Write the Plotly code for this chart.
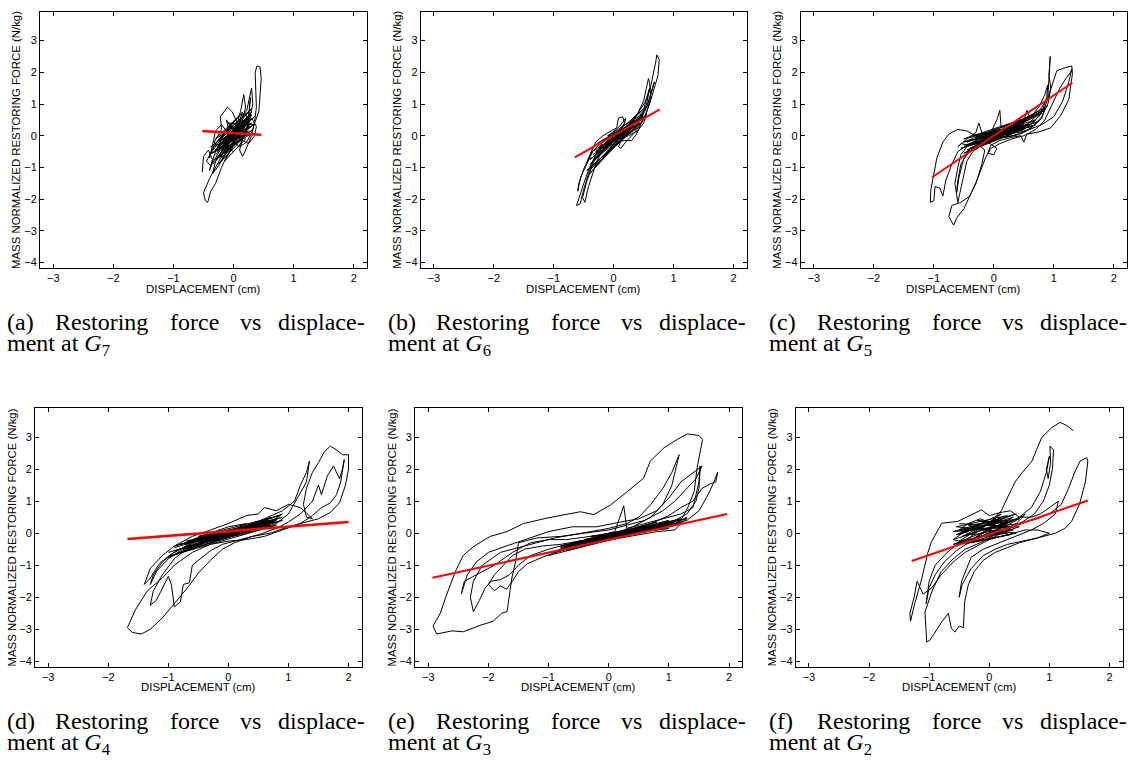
import plotly.graph_objects as go

W, H = 1135, 769

# ---------------- data ----------------
g7_points = [(-0.52,-1.15),(-0.5,-0.65),(-0.42,-0.45),(-0.35,-0.75),(-0.4,-1.1),(-0.3,-0.5),(-0.2,-0.1),(-0.25,-0.55),
 (-0.38,-0.95),(-0.45,-0.8),(-0.3,-0.25),(-0.15,0.1),(-0.05,0.3),(-0.12,-0.1),(-0.25,-0.4),(-0.32,-0.2),(-0.2,0.2),
 (-0.22,0.6),(-0.1,0.9),(-0.02,0.75),(0.05,0.45),(0.0,0.05),(-0.1,-0.3),(-0.2,-0.65),(-0.3,-1.0),(-0.4,-1.35),
 (-0.5,-1.8),(-0.47,-2.05),(-0.43,-2.1),(-0.38,-1.75),(-0.3,-1.5),(-0.25,-1.25),(-0.2,-1.0),(-0.1,-0.6),(0.0,-0.25),
 (0.1,0.1),(0.15,0.5),(0.2,0.9),(0.17,1.3),(0.12,0.8),(0.05,0.3),(-0.05,-0.05),(-0.15,-0.35),(0.0,-0.5),(0.1,-0.3),
 (0.2,0.05),(0.25,0.5),(0.28,1.2),(0.25,0.6),(0.15,0.2),(0.05,-0.1),(-0.1,-0.45),(-0.25,-0.7),(-0.15,-0.3),(0.0,0.15),
 (0.1,0.5),(0.22,0.8),(0.3,1.5),(0.32,1.0),(0.25,0.3),(0.15,-0.1),(0.1,-0.45),(0.15,-0.65),(0.2,-0.45),(0.3,0.0),
 (0.35,0.45),(0.38,0.9),(0.37,1.4),(0.36,2.0),(0.39,2.2),(0.44,2.17),(0.46,1.8),(0.44,1.2),(0.42,0.75),(0.36,0.45),
 (0.3,0.1),(0.22,-0.2),(0.1,-0.35),(0.0,-0.2),(-0.1,0.1),(-0.2,0.35),(-0.3,0.15),(-0.35,-0.3),(-0.4,-0.7),(-0.35,-0.4),
 (-0.2,0.0),(-0.05,0.35),(0.1,0.65),(0.2,0.7),(0.25,0.4),(0.2,0.1),(0.05,-0.2),(-0.1,-0.5),(-0.25,-0.95),(-0.35,-1.2),
 (-0.3,-0.8),(-0.15,-0.35),(0.0,0.0),(0.15,0.3),(0.3,0.55),(0.38,0.3),(0.35,0.0),(0.25,-0.25),(0.1,-0.1),(0.0,0.2),
 (-0.12,0.5),(-0.08,0.2),(0.05,0.0)]
g7_core = [(-0.3,-0.6),(0.2,0.3),(-0.25,-0.3),(0.25,0.55),(-0.2,-0.45),(0.3,0.4),(-0.28,-0.2),(0.15,0.6),(-0.15,-0.55),
 (0.32,0.2),(-0.3,-0.75),(0.2,0.45),(-0.1,-0.2),(0.28,0.7),(-0.22,-0.65),(0.1,0.35),(-0.3,-0.45),(0.35,0.6),(-0.18,-0.3),
 (0.22,0.05),(-0.25,-0.9),(0.12,0.1),(-0.05,0.25),(0.3,0.85),(-0.35,-0.55),(0.05,-0.05),(0.25,0.25),(-0.2,-0.15),
 (0.18,0.5),(-0.12,-0.4),(0.3,0.3),(-0.28,-0.5),(0.1,0.2)]
g7_core2 = [(-0.35,-0.9),(0.1,0.0),(-0.2,-0.7),(0.25,0.15),(-0.4,-0.6),(0.05,0.55),(-0.3,-0.1),(0.3,0.65),(-0.15,-0.8),
 (0.2,-0.1),(-0.1,0.4),(0.35,0.35),(-0.25,-0.15),(0.15,0.75),(-0.05,-0.35),(0.28,0.05),(-0.38,-0.35),(0.1,0.4),
 (-0.2,-0.35),(0.3,0.75),(0.0,-0.1)]

g6_points = [(-0.05,0.0),(0.1,0.15),(0.25,0.3),(0.4,0.55),(0.5,0.8),(0.55,1.2),(0.6,1.5),(0.55,1.0),(0.45,0.5),(0.35,0.2),
 (0.2,0.05),(0.0,-0.15),(-0.15,-0.3),(-0.3,-0.6),(-0.4,-1.0),(-0.48,-1.4),(-0.55,-1.8),(-0.62,-2.2),(-0.56,-2.15),
 (-0.5,-1.7),(-0.42,-1.2),(-0.32,-0.7),(-0.2,-0.25),(-0.05,0.05),(0.1,0.3),(0.2,0.55),(0.18,0.35),(0.1,0.15),(0.25,0.35),
 (0.4,0.7),(0.5,1.1),(0.58,1.8),(0.6,1.65),(0.62,1.2),(0.55,0.75),(0.45,0.35),(0.38,0.05),(0.3,-0.15),(0.18,-0.15),
 (0.05,-0.2),(-0.1,-0.35),(-0.25,-0.55),(-0.35,-0.9),(-0.45,-1.45),(-0.52,-1.95),(-0.48,-2.1),(-0.42,-1.6),(-0.35,-1.2),
 (-0.28,-0.8),(-0.2,-0.5),(-0.08,-0.2),(0.05,0.0),(0.15,0.2),(0.3,0.4),(0.42,0.75),(0.52,1.05),(0.6,1.4),(0.65,1.8),
 (0.7,2.3),(0.72,2.55),(0.76,2.4),(0.74,1.9),(0.68,1.5),(0.6,1.0),(0.52,0.6),(0.42,0.3),(0.3,0.1),(0.15,-0.05),
 (0.08,-0.35),(0.12,-0.4),(0.2,-0.2),(0.35,0.1),(0.48,0.45),(0.55,0.7),(0.5,0.4),(0.4,0.15),(0.25,0.0),(0.1,-0.1),
 (-0.05,-0.2),(-0.2,-0.3),(-0.35,-0.5),(-0.45,-0.9),(-0.55,-1.3),(-0.6,-1.75),(-0.58,-1.5),(-0.5,-1.05),(-0.4,-0.6),
 (-0.3,-0.2),(-0.18,0.0),(-0.05,0.15),(0.05,0.25),(0.08,0.55),(0.15,0.6),(0.18,0.4),(0.12,0.2),(0.0,0.05),(-0.12,-0.1),
 (-0.25,-0.2),(-0.35,-0.4),(-0.42,-0.75),(-0.38,-0.55),(-0.25,-0.3),(-0.1,-0.1),(0.05,0.1),(0.2,0.2),(0.35,0.3),
 (0.45,0.5),(0.55,0.9),(0.62,1.3),(0.68,1.7),(0.64,1.4),(0.56,0.95),(0.45,0.6),(0.3,0.25),(0.15,0.1),(0.0,0.0)]
g6_core = [(-0.4,-0.9),(0.3,0.25),(-0.3,-0.5),(0.45,0.6),(-0.35,-0.8),(0.2,0.2),(-0.2,-0.15),(0.4,0.45),(-0.4,-1.2),
 (0.35,0.5),(-0.25,-0.4),(0.5,0.85),(-0.3,-0.7),(0.1,0.05),(-0.15,-0.25),(0.45,0.4),(-0.38,-1.05),(0.3,0.35),(-0.1,0.0),
 (0.5,0.7),(-0.3,-0.95),(0.25,0.1)]
g6_core2 = [(-0.35,-0.6),(0.4,0.35),(-0.45,-1.1),(0.3,0.15),(-0.2,-0.35),(0.5,0.6),(-0.4,-0.75),(0.2,0.1),(0.0,0.0)]

g5_points = [(0.0,0.0),(0.2,0.15),(0.4,0.3),(0.6,0.55),(0.75,0.9),(0.85,1.3),(0.9,1.6),(0.88,1.2),(0.8,0.75),(0.65,0.4),
 (0.5,0.2),(0.3,0.1),(0.1,0.0),(-0.1,-0.1),(-0.3,-0.2),(-0.45,-0.35),(-0.55,-0.6),(-0.6,-1.0),(-0.65,-1.5),(-0.6,-2.1),
 (-0.55,-1.7),(-0.5,-1.2),(-0.45,-0.8),(-0.35,-0.5),(-0.2,-0.3),(0.0,-0.15),(0.2,0.0),(0.4,0.15),(0.55,0.35),(0.7,0.6),
 (0.8,0.9),(0.9,1.2),(0.94,2.5),(0.92,1.9),(0.95,1.5),(0.9,1.0),(0.8,0.6),(0.65,0.3),(0.5,0.1),(0.35,0.0),(0.15,-0.05),
 (-0.05,-0.1),(-0.25,-0.25),(-0.4,-0.3),(-0.55,-0.25),(-0.6,-0.35),(-0.45,-0.1),(-0.3,0.1),(-0.25,0.4),(-0.2,0.1),
 (-0.05,0.1),(0.05,0.5),(0.1,0.8),(0.12,0.3),(0.2,0.25),(0.35,0.35),(0.5,0.45),(0.55,0.8),(0.6,0.55),(0.75,0.7),
 (0.85,0.9),(0.92,1.3),(1.0,1.8),(1.05,2.05),(1.2,2.15),(1.3,2.2),(1.31,1.95),(1.28,1.5),(1.25,1.15),(1.12,0.65),
 (0.95,0.25),(0.75,0.12),(0.55,0.05),(0.5,-0.2),(0.45,0.0),(0.3,-0.05),(0.1,-0.15),(-0.05,-0.3),(-0.1,-0.55),(0.0,-0.6),
 (0.05,-0.4),(-0.1,-0.2),(-0.3,-0.35),(-0.45,-0.6),(-0.55,-0.9),(-0.6,-1.4),(-0.62,-1.8),(-0.58,-1.3),(-0.5,-0.7),
 (-0.4,-0.4),(-0.25,-0.3),(-0.15,-0.45),(-0.2,-0.9),(-0.3,-1.5),(-0.4,-1.9),(-0.5,-2.3),(-0.62,-2.6),(-0.67,-2.82),
 (-0.75,-2.55),(-0.7,-2.2),(-0.55,-2.1),(-0.4,-1.9),(-0.3,-1.5),(-0.2,-1.0),(-0.14,-0.7),(-0.05,-0.4),(0.1,-0.25),
 (0.3,-0.1),(0.5,0.0),(0.7,0.2),(0.85,0.5),(0.95,0.9),(1.1,1.5),(1.2,1.8),(1.28,2.0),(1.3,2.1),(1.25,1.7),(1.15,1.1),
 (1.0,0.6),(0.8,0.35),(0.6,0.2),(0.4,0.1),(0.2,0.05),(0.0,-0.05),(-0.2,-0.1),(-0.35,0.05),(-0.45,0.15),(-0.6,0.2),
 (-0.75,0.05),(-0.85,-0.2),(-0.95,-0.7),(-1.0,-1.2),(-1.05,-1.7),(-1.06,-2.1),(-1.0,-2.05),(-0.98,-1.6),(-0.9,-1.65),
 (-0.85,-1.9),(-0.8,-1.4),(-0.7,-0.9),(-0.6,-0.5),(-0.45,-0.3),(-0.3,-0.15),(-0.15,0.0),(0.0,0.1),(0.2,0.2),(0.4,0.25),
 (0.6,0.35),(0.75,0.6),(0.85,0.9),(0.8,0.55),(0.6,0.2),(0.4,0.05),(0.2,-0.05),(0.0,0.0)]
g5_core = [(-0.5,-0.3),(0.4,0.15),(-0.4,-0.15),(0.6,0.35),(-0.45,-0.45),(0.5,0.2),(-0.3,-0.05),(0.7,0.5),(-0.5,-0.55),
 (0.3,0.05),(-0.2,0.05),(0.8,0.7),(-0.4,-0.4),(0.45,0.35),(-0.35,0.0),(0.65,0.3),(-0.5,-0.2),(0.85,0.8),(-0.25,-0.2),
 (0.55,0.5),(-0.45,-0.3),(0.75,0.45),(0.0,0.0)]
g5_core2 = [(-0.45,-0.2),(0.5,0.35),(-0.55,-0.4),(0.7,0.35),(-0.3,-0.25),(0.6,0.6),(-0.5,-0.1),(0.4,0.3),(-0.4,-0.5),
 (0.9,0.95),(0.0,0.0)]

g4_points = [(0.0,0.0),(0.3,0.1),(0.6,0.25),(0.8,0.4),(0.6,0.3),(0.3,0.15),(0.0,0.05),(-0.3,-0.1),(-0.5,-0.2),(-0.7,-0.35),
 (-0.5,-0.15),(-0.2,0.0),(0.1,0.1),(0.4,0.25),(0.7,0.45),(0.9,0.6),(0.7,0.35),(0.4,0.15),(0.1,0.0),(-0.2,-0.1),(-0.5,-0.3),
 (-0.8,-0.55),(-1.0,-0.8),(-1.2,-1.2),(-1.3,-1.6),(-1.25,-1.3),(-1.1,-0.9),(-0.9,-0.6),(-0.6,-0.3),(-0.3,-0.1),(0.0,0.1),
 (0.3,0.2),(0.6,0.45),(0.9,0.7),(1.1,1.0),(1.2,1.5),(1.3,1.9),(1.35,2.25),(1.3,1.6),(1.15,1.1),(1.0,0.6),(0.8,0.3),
 (0.5,0.1),(0.2,-0.05),(-0.1,-0.15),(-0.4,-0.3),(-0.7,-0.5),(-0.9,-0.8),(-1.1,-1.3),(-1.25,-1.8),(-1.3,-2.25),(-1.2,-2.1),
 (-1.1,-1.7),(-1.0,-1.35),(-0.95,-1.6),(-0.9,-2.3),(-0.8,-2.15),(-0.75,-1.6),(-0.65,-1.55),(-0.6,-1.0),(-0.5,-0.85),
 (-0.3,-0.55),(-0.1,-0.35),(0.2,-0.2),(0.5,-0.05),(0.8,0.15),(1.0,0.35),(1.2,0.6),(1.4,1.0),(1.5,1.5),(1.55,1.2),
 (1.65,1.8),(1.75,2.1),(1.85,1.7),(1.9,2.0),(1.93,2.3),(1.87,1.6),(1.8,1.2),(1.7,0.95),(1.55,0.8),(1.4,0.55),(1.2,0.3),
 (0.9,0.1),(0.6,-0.1),(0.3,-0.2),(0.0,-0.25),(-0.3,-0.35),(-0.6,-0.6),(-0.9,-1.0),(-1.1,-1.4),(-1.35,-1.8),(-1.55,-2.4),
 (-1.68,-2.95),(-1.6,-3.1),(-1.45,-3.15),(-1.3,-3.0),(-1.1,-2.65),(-0.9,-2.2),(-0.7,-1.75),(-0.5,-1.25),(-0.3,-0.85),
 (-0.1,-0.5),(0.1,-0.3),(0.4,-0.1),(0.7,0.0),(1.0,0.2),(1.3,0.35),(1.5,0.45),(1.7,0.65),(1.85,0.95),(1.95,1.5),(2.0,2.0),
 (2.0,2.45),(1.9,2.45),(1.8,2.6),(1.7,2.72),(1.6,2.55),(1.5,2.2),(1.4,1.9),(1.3,1.4),(1.25,0.9),(1.3,0.5),(1.4,0.45),
 (1.2,0.8),(1.0,0.9),(0.8,0.7),(0.6,0.8),(0.5,0.6),(0.3,0.55),(0.0,0.3),(-0.3,0.1),(-0.6,-0.1),(-0.9,-0.4),(-1.1,-0.7),
 (-1.3,-1.1),(-1.4,-1.6),(-1.3,-1.4),(-1.15,-0.95),(-0.95,-0.65),(-0.7,-0.4),(-0.4,-0.2),(-0.1,0.0),(0.2,0.15),(0.5,0.3),
 (0.7,0.5),(0.5,0.2),(0.2,0.05),(-0.1,-0.1),(-0.4,-0.25),(-0.6,-0.2),(-0.3,0.0),(0.0,0.2),(0.3,0.3),(0.0,0.0)]
g4_core = [(-1.0,-0.6),(0.6,0.3),(-0.8,-0.35),(0.8,0.45),(-0.9,-0.55),(0.4,0.15),(-0.6,-0.25),(0.9,0.5),(-1.0,-0.75),
 (0.5,0.35),(-0.7,-0.45),(0.7,0.25),(-0.5,-0.1),(0.85,0.55),(-0.9,-0.4),(0.3,0.2),(-0.6,-0.4),(0.75,0.35),(0.0,0.0)]
g4_core2 = [(-0.9,-0.45),(0.7,0.4),(-0.7,-0.25),(0.5,0.15),(-0.8,-0.6),(0.9,0.4),(-0.4,-0.2),(0.6,0.4),(-0.95,-0.7),
 (0.8,0.25),(-0.5,-0.3),(0.4,0.25),(-0.75,-0.5),(0.0,0.05)]

g3_points = [(0.0,-0.1),(0.3,0.0),(0.6,0.1),(0.9,0.2),(1.2,0.35),(1.0,0.25),(0.7,0.15),(0.4,0.05),(0.1,-0.05),(-0.2,-0.2),
 (-0.5,-0.3),(-0.8,-0.45),(-0.6,-0.35),(-0.3,-0.2),(0.0,-0.05),(0.3,0.1),(0.6,0.2),(0.9,0.25),(1.1,0.3),(1.3,0.5),
 (1.1,0.1),(0.8,0.05),(0.5,-0.05),(0.2,-0.15),(-0.1,-0.25),(-0.4,-0.4),(-0.7,-0.55),(-1.0,-0.7),(-0.8,-0.5),(-0.5,-0.3),
 (-0.2,-0.1),(0.1,0.05),(0.25,0.85),(0.3,0.15),(0.6,0.3),(0.9,0.45),(1.2,0.6),(1.4,0.8),(1.45,1.2),(1.5,1.6),(1.52,2.1),
 (1.5,1.4),(1.45,1.0),(1.3,0.6),(1.0,0.3),(0.7,0.15),(0.4,0.0),(0.1,-0.1),(-0.2,-0.2),(-0.5,-0.25),(-0.8,-0.35),
 (-1.1,-0.4),(-1.4,-0.5),(-1.6,-0.7),(-1.75,-1.0),(-1.9,-1.3),(-2.0,-1.6),(-1.9,-1.8),(-1.8,-1.65),(-1.7,-1.75),
 (-1.6,-1.5),(-1.5,-1.2),(-1.35,-0.95),(-1.1,-0.75),(-0.8,-0.55),(-0.5,-0.35),(-0.2,-0.2),(0.1,0.0),(0.4,0.2),(0.7,0.5),
 (0.9,0.9),(1.05,1.5),(1.17,2.45),(1.05,1.9),(0.9,1.4),(0.7,0.9),(0.5,0.5),(0.3,0.3),(0.0,0.15),(-0.3,0.05),(-0.6,-0.05),
 (-0.9,-0.15),(-1.2,-0.3),(-1.5,-0.45),(-1.8,-0.6),(-2.1,-1.0),(-2.25,-1.5),(-2.3,-2.0),(-2.25,-2.45),(-2.15,-2.1),
 (-2.05,-1.7),(-1.95,-1.5),(-1.8,-1.45),(-1.65,-1.3),(-1.5,-1.0),(-1.3,-0.7),(-1.0,-0.5),(-0.7,-0.35),(-0.4,-0.25),
 (-0.1,-0.15),(0.2,-0.05),(0.5,0.1),(0.8,0.2),(1.1,0.3),(1.3,0.4),(1.5,0.7),(1.65,1.2),(1.75,1.6),(1.81,1.9),(1.78,1.6),
 (1.7,1.55),(1.55,1.4),(1.4,1.0),(1.2,0.8),(1.0,0.55),(0.7,0.3),(0.4,0.15),(0.1,0.0),(-0.3,-0.1),(-0.7,-0.2),(-1.0,-0.2),
 (-1.3,-0.3),(-1.6,-0.6),(-1.9,-1.0),(-2.2,-1.3),(-2.4,-1.5),(-2.45,-1.9),(-2.42,-1.7),(-2.35,-1.3),(-2.2,-0.9),
 (-2.0,-0.6),(-1.7,-0.4),(-1.4,-0.2),(-1.0,0.05),(-0.6,0.2),(-0.2,0.2),(0.2,0.35),(0.5,0.45),(0.8,0.7),(1.0,1.1),
 (1.2,1.6),(1.4,1.9),(1.55,2.1),(1.45,1.7),(1.3,1.4),(1.1,1.0),(0.9,0.7),(0.6,0.4),(0.3,0.25),(0.0,0.1),(-0.4,0.0),
 (-0.8,-0.1),(-1.2,-0.15),(-1.5,-0.3),(-1.55,-0.9),(-1.61,-1.4),(-1.69,-2.45),(-1.78,-2.5),(-1.92,-2.75),(-2.14,-2.88),
 (-2.42,-3.08),(-2.6,-3.05),(-2.86,-3.15),(-2.92,-2.9),(-2.8,-2.5),(-2.7,-1.95),(-2.55,-1.2),(-2.42,-0.7),(-2.25,-0.42),
 (-1.97,-0.1),(-1.69,0.05),(-1.42,0.3),(-1.03,0.47),(-0.47,0.67),(-0.25,0.58),(0.03,0.88),(0.31,1.3),(0.58,1.72),
 (0.69,2.25),(0.92,2.67),(1.14,2.93),(1.31,3.1),(1.5,3.05),(1.56,2.93),(1.47,2.05),(1.42,1.3),(1.31,0.78),(1.19,0.37),
 (1.0,0.2),(0.7,0.1),(0.4,0.0),(0.1,-0.1),(-0.2,-0.2),(-0.5,-0.35),(-0.8,-0.5),(-0.5,-0.3),(-0.2,-0.15),(0.0,-0.1)]
g3_core = [(-0.8,-0.5),(1.0,0.25),(-0.6,-0.35),(1.2,0.45),(-0.7,-0.55),(0.8,0.15),(-0.5,-0.25),(1.1,0.35),(-0.8,-0.4),
 (0.6,0.2),(-0.4,-0.3),(1.2,0.3),(-0.6,-0.45),(0.9,0.3),(-0.3,-0.1),(1.0,0.15),(0.0,-0.1)]
g3_core2 = [(-0.7,-0.45),(1.1,0.4),(-0.9,-0.6),(0.7,0.25),(-0.4,-0.2),(1.3,0.45),(-0.6,-0.3),(0.5,0.05),(-0.8,-0.55),
 (1.0,0.4),(-0.2,-0.2),(0.8,0.35),(0.0,-0.05)]

g2_points = [(1.4,3.2),(1.3,3.35),(1.18,3.46),(1.04,3.3),(0.87,2.98),(0.71,2.25),(0.55,1.9),(0.43,1.6),(0.3,1.1),(0.2,0.7),
 (0.05,0.4),(-0.1,0.2),(-0.3,0.1),(-0.5,-0.05),(-0.3,0.15),(-0.1,0.3),(0.1,0.2),(0.3,0.3),(0.5,0.5),(0.7,0.8),(0.85,1.3),
 (0.95,1.9),(1.0,2.4),(0.95,2.0),(0.98,1.7),(1.02,2.2),(1.01,2.72),(1.07,2.6),(1.05,2.0),(1.0,1.5),(0.9,1.0),(0.75,0.6),
 (0.55,0.35),(0.35,0.2),(0.15,0.05),(-0.1,-0.1),(-0.3,-0.2),(-0.5,-0.3),(-0.7,-0.6),(-0.9,-1.0),(-1.0,-1.5),(-1.05,-2.2),
 (-1.0,-1.7),(-0.9,-1.3),(-0.75,-0.9),(-0.55,-0.55),(-0.35,-0.3),(-0.15,-0.1),(0.05,0.05),(0.25,0.2),(0.45,0.4),(0.6,0.6),
 (0.45,0.3),(0.25,0.1),(0.05,-0.1),(-0.15,-0.3),(-0.4,-0.5),(-0.6,-0.8),(-0.8,-1.2),(-0.95,-1.8),(-1.07,-2.46),
 (-1.04,-3.4),(-0.99,-3.35),(-0.79,-2.77),(-0.68,-2.51),(-0.63,-2.98),(-0.57,-3.09),(-0.5,-2.9),(-0.43,-2.95),
 (-0.41,-2.15),(-0.35,-1.62),(-0.25,-1.2),(-0.1,-0.85),(0.1,-0.6),(0.3,-0.45),(0.5,-0.3),(0.7,-0.2),(0.9,-0.1),(1.1,0.0),
 (1.26,0.15),(1.37,0.37),(1.5,0.9),(1.6,1.6),(1.64,2.25),(1.62,2.36),(1.51,2.25),(1.43,1.94),(1.32,1.4),(1.2,0.9),
 (1.0,0.6),(0.8,0.45),(0.6,0.35),(0.4,0.2),(0.2,0.0),(0.0,-0.2),(-0.2,-0.4),(-0.4,-0.6),(-0.6,-0.9),(-0.8,-1.3),
 (-0.95,-1.7),(-1.1,-1.9),(-1.2,-1.5),(-1.25,-2.0),(-1.32,-2.5),(-1.31,-2.75),(-1.24,-2.2),(-1.13,-1.47),(-1.02,-0.6),
 (-0.96,-0.26),(-0.79,0.31),(-0.52,0.37),(-0.29,0.58),(-0.13,0.73),(0.0,0.55),(0.2,0.65),(0.35,0.7),(0.5,0.5),(0.7,0.5),
 (0.85,0.6),(1.0,0.8),(1.15,1.0),(1.1,0.6),(0.9,0.3),(0.7,0.1),(0.5,-0.05),(0.3,-0.2),(0.1,-0.35),(-0.1,-0.5),
 (-0.3,-0.75),(-0.46,-1.5),(-0.5,-2.0),(-0.45,-1.6),(-0.3,-1.1),(-0.1,-0.7),(0.1,-0.5),(0.3,-0.35),(0.55,-0.25),
 (0.8,-0.15),(1.0,0.0),(0.8,0.1),(0.6,0.1),(0.4,0.0),(0.2,-0.1),(0.0,-0.2),(-0.2,-0.25),(-0.4,-0.3),(-0.6,-0.2),
 (-0.45,0.0),(-0.25,0.2),(-0.05,0.35),(0.15,0.4),(0.3,0.3),(0.1,0.1),(-0.1,0.0),(-0.3,-0.05),(-0.5,0.1),(-0.35,0.3),
 (-0.15,0.45),(0.05,0.3),(0.2,0.15),(0.0,0.0)]
g2_core = [(-0.6,-0.2),(0.4,0.4),(-0.5,0.1),(0.5,0.2),(-0.4,-0.35),(0.3,0.55),(-0.55,0.2),(0.45,0.0),(-0.3,-0.3),(0.2,0.5),
 (-0.45,-0.1),(0.5,0.45),(-0.35,0.25),(0.35,-0.05),(-0.6,-0.35),(0.25,0.3),(-0.2,0.4),(0.4,0.1),(-0.5,-0.25),(0.1,0.45),
 (0.0,0.0)]
g2_core2 = [(-0.5,0.3),(0.35,0.2),(-0.6,0.05),(0.45,0.6),(-0.3,0.1),(0.5,0.3),(-0.45,-0.3),(0.2,0.6),(-0.55,-0.05),
 (0.4,0.5),(-0.25,-0.15),(0.3,0.0),(0.0,0.0)]

# fitted (red) lines: end points
g7_fit_x, g7_fit_y = [-0.52, 0.46], [0.15, 0.03]
g6_fit_x, g6_fit_y = [-0.65, 0.77], [-0.68, 0.83]
g5_fit_x, g5_fit_y = [-1.03, 1.31], [-1.31, 1.67]
g4_fit_x, g4_fit_y = [-1.68, 2.0], [-0.18, 0.35]
g3_fit_x, g3_fit_y = [-2.93, 1.97], [-1.39, 0.60]
g2_fit_x, g2_fit_y = [-1.29, 1.64], [-0.87, 1.02]

x_ticks = [-3, -2, -1, 0, 1, 2]
y_ticks = [-4, -3, -2, -1, 0, 1, 2, 3]
caption_letters = ["(a)", "(b)", "(c)", "(d)", "(e)", "(f)"]
caption_nodes = ["7", "6", "5", "4", "3", "2"]
x_title = "DISPLACEMENT (cm)"
y_title = "MASS NORMALIZED RESTORING FORCE (N/kg)"

panels_data = [
    ([g7_points, g7_core, g7_core2], g7_fit_x, g7_fit_y),
    ([g6_points, g6_core, g6_core2], g6_fit_x, g6_fit_y),
    ([g5_points, g5_core, g5_core2], g5_fit_x, g5_fit_y),
    ([g4_points, g4_core, g4_core2], g4_fit_x, g4_fit_y),
    ([g3_points, g3_core, g3_core2], g3_fit_x, g3_fit_y),
    ([g2_points, g2_core, g2_core2], g2_fit_x, g2_fit_y),
]

# ---------------- layout (pixel boxes) ----------------
boxes = [
    (40, 367, 12, 268),
    (420.7, 746.7, 12, 268),
    (800.7, 1127, 12, 268),
    (35, 361.7, 408.3, 666.7),
    (415, 742.3, 408.3, 666.7),
    (795.7, 1122.7, 408.3, 666.7),
]
caption_cols = [5, 386, 767, 5, 386, 767]
caption_line1 = [322, 322, 322, 720.5, 720.5, 720.5]
red_widths = [2.6, 2, 2, 2.6, 2, 2]

X_RANGE = [-3.22, 2.22]
Y_RANGE = [-4.17, 3.9]

fig = go.Figure()
layout = dict(
    width=W, height=H, margin=dict(l=0, r=0, t=0, b=0),
    paper_bgcolor="white", plot_bgcolor="white", showlegend=False,
)
annotations = []
tick_font = dict(family="Liberation Sans", size=11, color="black")
title_font = dict(family="Liberation Sans", size=11.4, color="black")
cap_font = dict(family="Liberation Serif", size=24, color="black")

for i, ((segs, fx, fy), (x0, x1, y0, y1)) in enumerate(zip(panels_data, boxes)):
    k = "" if i == 0 else str(i + 1)
    for seg in segs:
        fig.add_trace(go.Scatter(x=[p[0] for p in seg], y=[p[1] for p in seg], mode="lines",
                                 line=dict(color="black", width=1),
                                 xaxis="x" + k, yaxis="y" + k, hoverinfo="skip"))
    fig.add_trace(go.Scatter(x=fx, y=fy, mode="lines", line=dict(color="#ff0000", width=red_widths[i]),
                             xaxis="x" + k, yaxis="y" + k, hoverinfo="skip"))
    common = dict(showline=True, linecolor="black", linewidth=1, mirror="ticks",
                  ticks="inside", ticklen=4, tickcolor="black", tickwidth=1,
                  showgrid=False, zeroline=False, tickfont=tick_font, fixedrange=True)
    layout["xaxis" + k] = dict(domain=[x0 / W, x1 / W], anchor="y" + k, range=X_RANGE,
                               tickmode="array", tickvals=x_ticks, **common)
    layout["yaxis" + k] = dict(domain=[1 - y1 / H, 1 - y0 / H], anchor="x" + k, range=Y_RANGE,
                               tickmode="array", tickvals=y_ticks, **common)
    annotations.append(dict(text=x_title, x=(x0 + x1) / 2 / W, y=1 - (y1 + 20.5) / H,
                            xref="paper", yref="paper", xanchor="center", yanchor="middle",
                            showarrow=False, font=title_font))
    annotations.append(dict(text=y_title, x=(x0 - 24) / W, y=1 - (y0 + y1) / 2 / H,
                            xref="paper", yref="paper", xanchor="center", yanchor="middle",
                            textangle=-90, showarrow=False, font=title_font))
    c0 = caption_cols[i]
    ly = caption_line1[i]
    words = [(caption_letters[i], 0, "left"), ("Restoring", 48, "left"), ("force", 163, "left"),
             ("vs", 233, "left"), ("displace-", 362, "right")]
    for w, off, anc in words:
        annotations.append(dict(text=w, x=(c0 + off) / W, y=1 - ly / H, xref="paper", yref="paper",
                                xanchor=anc, yanchor="middle", showarrow=False, font=cap_font))
    annotations.append(dict(text="ment at <i>G</i><sub>" + caption_nodes[i] + "</sub>",
                            x=c0 / W, y=1 - (ly + 23) / H, xref="paper", yref="paper",
                            xanchor="left", yanchor="middle", showarrow=False, font=cap_font))

layout["annotations"] = annotations
fig.update_layout(**layout)
fig.write_html("out.html", config={"displayModeBar": False},
               post_script="document.body.style.margin='0px';")
